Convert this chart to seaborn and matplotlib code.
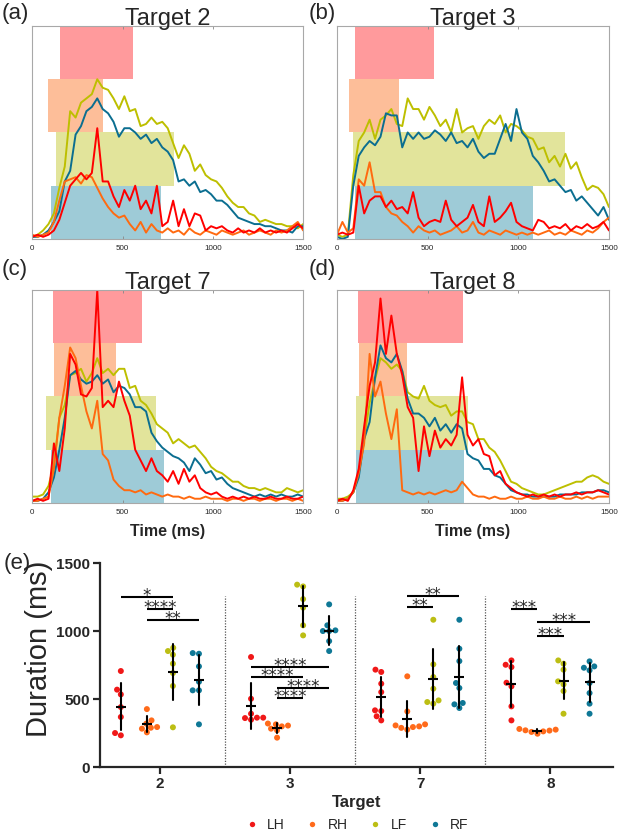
import numpy as np
import pandas as pd
import matplotlib
matplotlib.use("Agg")
import matplotlib.pyplot as plt
import seaborn as sns

# ===============================
# 1. Data
# ===============================
LIMBS = ["LH", "RH", "LF", "RF"]
TARGETS = ["2", "3", "7", "8"]

# sample times of the EMG envelopes (ms)
TIME_MS = [0, 30, 60, 90, 120, 150, 180, 210, 240, 270, 300, 330, 360, 390, 420, 450, 480,
           510, 540, 570, 600, 630, 660, 690, 720, 750, 780, 810, 840, 870, 900, 930, 960,
           990, 1020, 1050, 1080, 1110, 1140, 1170, 1200, 1230, 1260, 1290, 1320, 1350,
           1380, 1410, 1440, 1470, 1500]

# envelopes (arbitrary units, 0-100), one list per limb and target
T2_LH = [1, 2, 1, 2, 4, 9, 17, 25, 28, 31, 28, 31, 52, 27, 27, 20, 15, 23, 18, 25, 14, 18, 12, 25, 6,
         8, 18, 6, 14, 6, 12, 11, 4, 6, 5, 6, 4, 3, 5, 3, 4, 3, 5, 3, 4, 3, 4, 3, 5, 7, 5]
T2_RH = [2, 1, 2, 3, 8, 18, 27, 28, 29, 26, 30, 29, 24, 19, 15, 12, 10, 11, 7, 4, 8, 3, 7, 4, 3,
         5, 3, 4, 2, 5, 3, 2, 4, 3, 2, 4, 3, 2, 3, 4, 2, 3, 4, 3, 2, 4, 3, 4, 6, 8, 4]
T2_LF = [1, 2, 4, 7, 12, 24, 34, 60, 57, 64, 66, 68, 75, 71, 70, 66, 61, 67, 60, 61, 53, 54, 57, 54, 55,
         52, 45, 38, 44, 40, 32, 35, 30, 28, 27, 24, 20, 17, 15, 15, 12, 11, 8, 9, 8, 7, 7, 6, 6, 5, 7]
T2_RF = [1, 1, 2, 4, 8, 13, 27, 32, 49, 53, 60, 62, 66, 61, 59, 55, 48, 52, 52, 50, 47, 49, 45, 47, 43,
         41, 37, 27, 28, 25, 27, 22, 23, 21, 18, 18, 16, 13, 10, 9, 8, 7, 7, 6, 6, 5, 4, 4, 3, 6, 6]

T3_LH = [2, 3, 2, 3, 25, 12, 18, 20, 20, 15, 18, 14, 15, 12, 22, 10, 6, 8, 9, 8, 18, 9, 6, 8, 10,
         16, 8, 6, 20, 8, 10, 13, 17, 8, 6, 5, 4, 9, 8, 5, 6, 5, 7, 4, 6, 5, 7, 5, 6, 8, 4]
T3_RH = [2, 8, 3, 5, 28, 25, 36, 22, 22, 15, 12, 11, 8, 6, 3, 6, 4, 3, 4, 2, 3, 4, 6, 3, 4,
         8, 3, 2, 4, 3, 2, 4, 3, 2, 3, 2, 3, 2, 3, 4, 2, 3, 2, 4, 3, 2, 4, 3, 5, 8, 10]
T3_LF = [2, 1, 2, 30, 46, 50, 56, 47, 56, 58, 61, 54, 53, 66, 61, 61, 56, 62, 58, 53, 56, 50, 61, 50, 52,
         53, 47, 53, 56, 54, 58, 50, 54, 53, 51, 48, 47, 42, 43, 36, 39, 34, 40, 33, 36, 29, 23, 25, 24, 21, 15]
T3_RF = [1, 0, 1, 25, 39, 43, 46, 44, 48, 59, 58, 58, 43, 50, 47, 50, 47, 48, 51, 49, 46, 50, 45, 46, 43,
         47, 41, 38, 40, 40, 47, 54, 46, 61, 50, 47, 39, 36, 32, 27, 28, 25, 22, 23, 18, 20, 17, 14, 11, 15, 9]

T7_LH = [1, 2, 1, 2, 28, 15, 35, 70, 65, 51, 50, 54, 100, 45, 48, 45, 57, 48, 41, 25, 20, 15, 21, 15, 13,
         10, 15, 9, 16, 10, 13, 7, 5, 4, 5, 3, 2, 3, 2, 3, 2, 3, 2, 2, 3, 2, 2, 3, 2, 2, 3]
T7_RH = [1, 1, 2, 3, 16, 40, 55, 73, 68, 55, 43, 35, 48, 23, 20, 11, 8, 6, 6, 5, 6, 4, 5, 4, 3,
         4, 3, 3, 2, 3, 2, 2, 3, 2, 2, 2, 1, 2, 2, 1, 2, 2, 1, 2, 2, 1, 2, 2, 1, 2, 1]
T7_LF = [3, 3, 4, 8, 18, 40, 46, 60, 61, 63, 57, 61, 68, 61, 63, 60, 63, 63, 54, 55, 48, 46, 42, 37, 35,
         33, 28, 30, 28, 26, 27, 24, 21, 17, 15, 14, 12, 10, 10, 8, 7, 7, 6, 7, 6, 5, 5, 7, 6, 5, 6]
T7_RF = [1, 1, 2, 5, 12, 25, 40, 60, 62, 58, 56, 57, 60, 56, 58, 52, 55, 54, 51, 45, 45, 43, 33, 29, 26,
         24, 22, 21, 19, 15, 21, 18, 14, 15, 11, 12, 9, 7, 6, 5, 4, 3, 4, 3, 4, 3, 4, 3, 3, 4, 3]

T8_LH = [1, 2, 1, 6, 16, 36, 55, 66, 96, 70, 88, 70, 60, 45, 40, 15, 36, 22, 34, 26, 30, 27, 32, 59, 32,
         27, 30, 23, 22, 13, 15, 9, 7, 5, 4, 3, 4, 3, 4, 3, 4, 3, 4, 4, 5, 4, 5, 5, 6, 5, 4]
T8_RH = [1, 1, 2, 5, 14, 28, 70, 50, 57, 42, 30, 44, 6, 5, 4, 5, 4, 5, 4, 5, 6, 5, 6, 10, 7,
         4, 3, 3, 2, 3, 2, 2, 3, 2, 2, 3, 2, 2, 3, 2, 2, 3, 2, 2, 3, 2, 3, 2, 3, 3, 3]
T8_LF = [2, 2, 3, 5, 14, 30, 47, 58, 68, 66, 63, 65, 62, 52, 50, 49, 55, 48, 46, 45, 46, 41, 43, 43, 38,
         37, 30, 30, 26, 24, 20, 15, 10, 9, 7, 6, 5, 4, 4, 5, 6, 7, 8, 9, 10, 10, 12, 13, 12, 10, 9]
T8_RF = [1, 1, 2, 5, 12, 30, 38, 59, 74, 68, 66, 70, 62, 49, 42, 42, 40, 36, 40, 34, 37, 33, 37, 35, 23,
         21, 20, 16, 16, 13, 12, 9, 6, 5, 4, 4, 3, 3, 3, 3, 3, 4, 4, 4, 4, 5, 5, 5, 6, 6, 5]

TRACES = {
    "2": {"LH": T2_LH, "RH": T2_RH, "LF": T2_LF, "RF": T2_RF},
    "3": {"LH": T3_LH, "RH": T3_RH, "LF": T3_LF, "RF": T3_RF},
    "7": {"LH": T7_LH, "RH": T7_RH, "LF": T7_LF, "RF": T7_RF},
    "8": {"LH": T8_LH, "RH": T8_RH, "LF": T8_LF, "RF": T8_RF},
}

# activation windows (onset, offset) in ms
WIN_T2 = {"LH": (153, 558), "RH": (88, 392), "LF": (129, 786), "RF": (105, 712)}
WIN_T3 = {"LH": (99, 535), "RH": (66, 344), "LF": (88, 1255), "RF": (98, 1082)}
WIN_T7 = {"LH": (114, 607), "RH": (123, 462), "LF": (77, 685), "RF": (105, 727)}
WIN_T8 = {"LH": (118, 697), "RH": (123, 386), "LF": (105, 721), "RF": (107, 703)}
WINDOWS = {"2": WIN_T2, "3": WIN_T3, "7": WIN_T7, "8": WIN_T8}

# activation durations (ms), one value per subject
DUR_T2 = {"LH": [706, 534, 569, 441, 368, 233, 250],
          "RH": [426, 319, 343, 255, 294, 289, 282],
          "LF": [877, 826, 853, 760, 691, 596, 292],
          "RF": [838, 833, 740, 627, 564, 564, 314]}
DUR_T3 = {"LH": [809, 502, 392, 348, 363, 363, 360],
          "RH": [320, 314, 299, 282, 270, 216, 305],
          "LF": [1328, 1341, 1235, 1172, 1042, 968],
          "RF": [1196, 1042, 1005, 1000, 1000, 926, 853]}
DUR_T7 = {"LH": [699, 716, 613, 551, 417, 373, 343, 412],
          "RH": [667, 409, 306, 294, 314, 275, 299, 288],
          "LF": [1083, 755, 662, 576, 466, 490, 478],
          "RF": [1083, 870, 779, 618, 581, 434, 471, 461]}
DUR_T8 = {"LH": [752, 784, 735, 593, 620, 446, 343],
          "RH": [268, 275, 262, 280, 270, 258, 245],
          "LF": [784, 760, 716, 608, 630, 559, 392],
          "RF": [740, 777, 711, 730, 618, 544, 466, 392]}
DURATIONS = {"2": DUR_T2, "3": DUR_T3, "7": DUR_T7, "8": DUR_T8}

# significance brackets: target, limb 1, limb 2, height (ms), label
SIG = [("2", "LH", "LF", 1250, "*"), ("2", "RH", "LF", 1162, "****"), ("2", "RH", "RF", 1083, "**"),
       ("3", "LH", "RF", 735, "****"), ("3", "LH", "LF", 662, "****"),
       ("3", "RH", "RF", 583, "****"), ("3", "RH", "LF", 507, "****"),
       ("7", "RH", "RF", 1255, "**"), ("7", "RH", "LF", 1176, "**"),
       ("8", "LH", "RH", 1160, "***"), ("8", "RH", "RF", 1066, "***"), ("8", "RH", "LF", 966, "***")]

LINE_COLORS = {"LH": "#FF0000", "RH": "#FF6A10", "LF": "#BDBF00", "RF": "#0B6E90"}
BAND_COLORS = {"LH": "#FF9A9C", "RH": "#FDBE99", "LF": "#E2E49B", "RF": "#9ECBD7"}
DOT_COLORS = {"LH": "#F01818", "RH": "#FF6A1A", "LF": "#BCBE14", "RF": "#0F7896"}

# ===============================
# 2. Style
# ===============================
sns.set_style("ticks")
plt.rcParams["font.family"] = ["Liberation Sans", "DejaVu Sans"]

fig = plt.figure(figsize=(6.2, 8.35), dpi=100)

# ===============================
# 3. Envelope panels (a)-(d)
# ===============================
panel_pos = {"2": [0.052, 0.7138, 0.437, 0.2551],
             "3": [0.5435, 0.7138, 0.4387, 0.2551],
             "7": [0.052, 0.3976, 0.437, 0.2551],
             "8": [0.5435, 0.3976, 0.4387, 0.2551]}
band_rows = {"LH": (0.75, 1.0), "RH": (0.5, 0.75), "LF": (0.25, 0.5), "RF": (0.0, 0.25)}
letters = {"2": ("(a)", 0.003, 0.984), "3": ("(b)", 0.497, 0.984),
           "7": ("(c)", 0.003, 0.677), "8": ("(d)", 0.497, 0.677)}

for tgt in TARGETS:
    ax = fig.add_axes(panel_pos[tgt])
    for limb in LIMBS:
        on, off = WINDOWS[tgt][limb]
        lo, hi = band_rows[limb]
        ax.axvspan(on, off, ymin=lo, ymax=hi, color=BAND_COLORS[limb], lw=0, zorder=0)
    for limb in ["LF", "RF", "RH", "LH"]:
        sns.lineplot(x=TIME_MS, y=TRACES[tgt][limb], color=LINE_COLORS[limb],
                     linewidth=1.4, ax=ax, zorder=2)
    ax.set_xlim(0, 1500)
    ax.set_ylim(0, 100)
    ax.set_yticks([])
    ax.set_xticks([0, 500, 1000, 1500])
    ax.tick_params(axis="x", direction="in", top=True, length=2.5, width=0.6,
                   color="#888888", labelsize=5.8, pad=4)
    for sp in ax.spines.values():
        sp.set_color("#A8A8A8")
        sp.set_linewidth(0.8)
    ax.set_title(f"Target {tgt}", fontsize=17, pad=1)
    if tgt in ("7", "8"):
        ax.set_xlabel("Time (ms)", fontsize=11.5, fontweight="bold", labelpad=6)
    lab, lx, ly = letters[tgt]
    fig.text(lx, ly, lab, fontsize=16, va="center", ha="left")

# ===============================
# 4. Duration panel (e)
# ===============================
rows = []
for tgt in TARGETS:
    for limb in LIMBS:
        for v in DURATIONS[tgt][limb]:
            rows.append({"Target": tgt, "Limb": limb, "Duration": v})
df = pd.DataFrame(rows)

ax_e = fig.add_axes([0.1613, 0.0814, 0.8274, 0.2443])
group_width = 0.8  # seaborn's default category width

sns.swarmplot(data=df, x="Target", y="Duration", hue="Limb", order=TARGETS, hue_order=LIMBS,
              dodge=True, palette=DOT_COLORS, size=4.3, linewidth=0, warn_thresh=1,
              ax=ax_e, zorder=3)
sns.pointplot(data=df, x="Target", y="Duration", hue="Limb", order=TARGETS, hue_order=LIMBS,
              dodge=group_width * 3 / 4, errorbar="sd", markers="_", linestyle="none",
              palette={k: "black" for k in LIMBS}, markersize=7, markeredgewidth=1.5,
              err_kws={"linewidth": 1.5, "zorder": 5}, legend=False, ax=ax_e, zorder=6)

# separators between targets
ax_e.vlines([0.5, 1.5, 2.5], 0, 1255, colors="#555555", linestyles=(0, (1, 1.2)), lw=0.9)

# significance brackets
slot = group_width / len(LIMBS)
for tgt, g1, g2, y, lab in SIG:
    xc = TARGETS.index(tgt)
    x1 = xc + (LIMBS.index(g1) - 1.5) * slot
    x2 = xc + (LIMBS.index(g2) - 1.5) * slot
    ax_e.plot([x1, x2], [y, y], color="black", lw=1.5, solid_capstyle="butt")
    ax_e.text((x1 + x2) / 2, y + 8, lab, ha="center", va="center", fontsize=12,
              family="DejaVu Sans")

ax_e.set_xlim(-0.46, 3.48)
ax_e.set_ylim(0, 1500)
ax_e.set_yticks([0, 500, 1000, 1500])
sns.despine(ax=ax_e)
for sp in ["left", "bottom"]:
    ax_e.spines[sp].set_linewidth(1.6)
ax_e.tick_params(width=1.6, length=5, labelsize=11, pad=2)
for lbl in ax_e.get_xticklabels() + ax_e.get_yticklabels():
    lbl.set_fontweight("bold")
ax_e.set_ylabel("Duration (ms)", fontsize=21)
ax_e.yaxis.set_label_coords(-0.092, 0.58)
ax_e.set_xlabel("Target", fontsize=12, fontweight="bold", labelpad=3)

sns.move_legend(ax_e, "center", bbox_to_anchor=(0.5, -0.285), ncol=4, frameon=False,
                title=None, fontsize=10, handlelength=1, handletextpad=0.6,
                columnspacing=1.5, markerscale=0.9)

fig.text(0.006, 1 - 563 / 835, "(e)", fontsize=16, va="center", ha="left")

plt.savefig("out.png", dpi=100)
